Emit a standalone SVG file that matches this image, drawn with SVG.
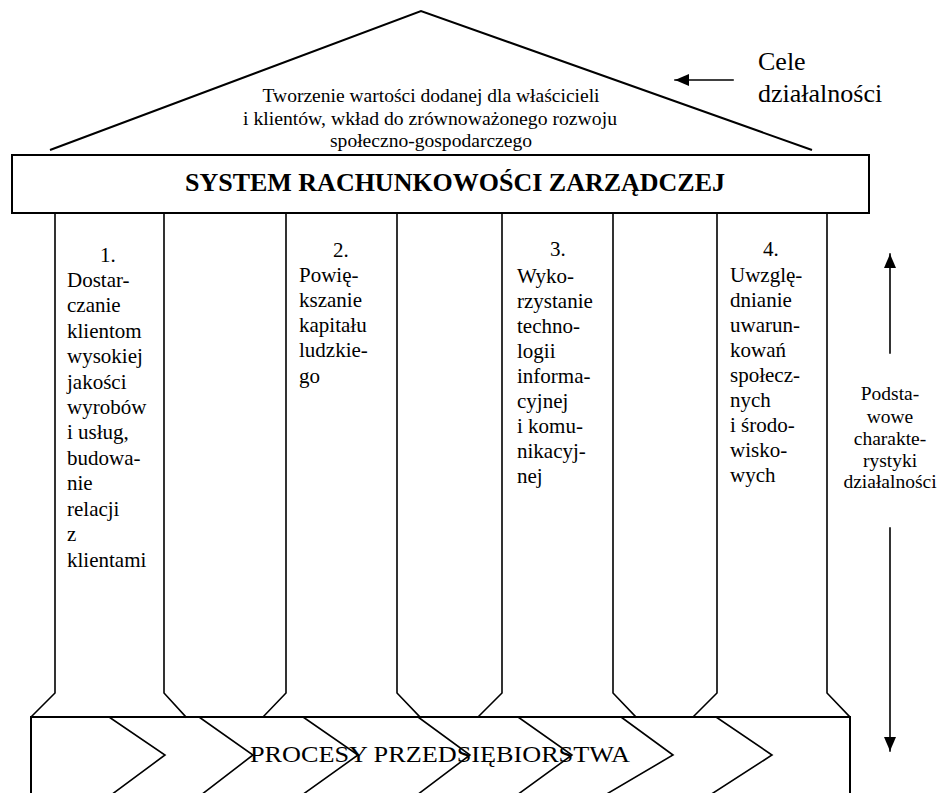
<svg xmlns="http://www.w3.org/2000/svg" width="940" height="793" viewBox="0 0 940 793" font-family="'Liberation Serif', 'DejaVu Serif', serif">
  <style>
    .ln { fill: none; stroke: #000; stroke-width: 1.6; stroke-linecap: square; }
    .thick { fill: none; stroke: #000; stroke-width: 2; }
    text { font-family: 'Liberation Serif', 'DejaVu Serif', serif; fill: #000; }
    .roof-txt { font-size: 19.5px; text-anchor: middle; }
    .col-txt { font-size: 21px; }
    .side-txt { font-size: 19.5px; text-anchor: middle; }
  </style>
  <defs>
    <marker id="head" viewBox="0 0 14 12" refX="14" refY="6" markerWidth="14" markerHeight="12" markerUnits="userSpaceOnUse" orient="auto">
      <path d="M0,0 L14,6 L0,12 Z" fill="#000"/>
    </marker>
  </defs>

  <rect width="940" height="793" fill="#fff"/>

  <!-- roof: goals -->
  <g id="roof">
    <polyline class="thick" points="50,150 421,11 812,150"/>
    <text class="roof-txt" x="431" y="102" textLength="337" lengthAdjust="spacingAndGlyphs">Tworzenie wartości dodanej dla właścicieli</text>
    <text class="roof-txt" x="430" y="125" textLength="374" lengthAdjust="spacingAndGlyphs">i klientów, wkład do zrównoważonego rozwoju</text>
    <text class="roof-txt" x="431" y="147" textLength="202" lengthAdjust="spacingAndGlyphs">społeczno-gospodarczego</text>
  </g>

  <!-- beam: management accounting system -->
  <g id="beam">
    <rect class="thick" x="12" y="155" width="857" height="58"/>
    <text x="185" y="191" font-size="26" font-weight="bold" textLength="540" lengthAdjust="spacingAndGlyphs">SYSTEM RACHUNKOWOŚCI ZARZĄDCZEJ</text>
  </g>

  <!-- pillar 1 -->
  <g id="pillar1">
    <path class="ln" d="M55,213 V693 L31,717 M164,213 V693 L186,717"/>
    <text class="col-txt" x="100" y="262">1.</text>
    <text class="col-txt" x="67" y="287">Dostar-</text>
    <text class="col-txt" x="67" y="312">czanie</text>
    <text class="col-txt" x="67" y="338">klientom</text>
    <text class="col-txt" x="67" y="363">wysokiej</text>
    <text class="col-txt" x="67" y="389">jakości</text>
    <text class="col-txt" x="67" y="414">wyrobów</text>
    <text class="col-txt" x="67" y="439">i usług,</text>
    <text class="col-txt" x="67" y="465">budowa-</text>
    <text class="col-txt" x="67" y="490">nie</text>
    <text class="col-txt" x="67" y="516">relacji</text>
    <text class="col-txt" x="67" y="541">z</text>
    <text class="col-txt" x="67" y="567">klientami</text>
  </g>

  <!-- pillar 2 -->
  <g id="pillar2">
    <path class="ln" d="M286,213 V693 L263,717 M397,213 V693 L420,717"/>
    <text class="col-txt" x="333" y="257">2.</text>
    <text class="col-txt" x="299" y="282">Powię-</text>
    <text class="col-txt" x="299" y="307">kszanie</text>
    <text class="col-txt" x="299" y="332">kapitału</text>
    <text class="col-txt" x="299" y="357">ludzkie-</text>
    <text class="col-txt" x="299" y="383">go</text>
  </g>

  <!-- pillar 3 -->
  <g id="pillar3">
    <path class="ln" d="M502,213 V693 L478,717 M613,213 V693 L636,717"/>
    <text class="col-txt" x="550" y="256">3.</text>
    <text class="col-txt" x="517" y="283">Wyko-</text>
    <text class="col-txt" x="517" y="308">rzystanie</text>
    <text class="col-txt" x="517" y="333">techno-</text>
    <text class="col-txt" x="517" y="358">logii</text>
    <text class="col-txt" x="517" y="383">informa-</text>
    <text class="col-txt" x="517" y="408">cyjnej</text>
    <text class="col-txt" x="517" y="433">i komu-</text>
    <text class="col-txt" x="517" y="458">nikacyj-</text>
    <text class="col-txt" x="517" y="483">nej</text>
  </g>

  <!-- pillar 4 -->
  <g id="pillar4">
    <path class="ln" d="M717,213 V693 L693,717 M827,213 V693 L850,717"/>
    <text class="col-txt" x="763" y="256">4.</text>
    <text class="col-txt" x="730" y="282">Uwzglę-</text>
    <text class="col-txt" x="730" y="307">dnianie</text>
    <text class="col-txt" x="730" y="332">uwarun-</text>
    <text class="col-txt" x="730" y="357">kowań</text>
    <text class="col-txt" x="730" y="382">społecz-</text>
    <text class="col-txt" x="730" y="407">nych</text>
    <text class="col-txt" x="730" y="432">i środo-</text>
    <text class="col-txt" x="730" y="457">wisko-</text>
    <text class="col-txt" x="730" y="482">wych</text>
  </g>

  <!-- foundation: enterprise processes -->
  <g id="base">
    <path class="thick" d="M31,795 V717 H850 V795"/>
    <path class="ln" d="M109,717 L165,755 L111,795
                        M199,717 L253,755 L201,795
                        M303,717 L358,755 L302,795
                        M418,717 L470,755 L417,795
                        M518,717 L572,755 L517,795
                        M621,717 L673,755 L605,795
                        M716,717 L772,755 L710,795"/>
    <text x="250" y="762" font-size="24" textLength="380" lengthAdjust="spacingAndGlyphs">PROCESY PRZEDSIĘBIORSTWA</text>
  </g>

  <!-- side annotations -->
  <g id="goals-label">
    <text x="758" y="70" font-size="26">Cele</text>
    <text x="758" y="102" font-size="26">działalności</text>
  </g>
  <g id="features-label">
    <text class="side-txt" x="890" y="400">Podsta-</text>
    <text class="side-txt" x="890" y="423">wowe</text>
    <text class="side-txt" x="890" y="445">charakte-</text>
    <text class="side-txt" x="890" y="467">rystyki</text>
    <text class="side-txt" x="890" y="488">działalności</text>
  </g>

  <g id="connectors">
    <line class="ln" x1="733" y1="80" x2="675" y2="80" marker-end="url(#head)"/>
    <line class="ln" x1="890" y1="353" x2="890" y2="254" marker-end="url(#head)"/>
    <line class="ln" x1="890" y1="528" x2="890" y2="751" marker-end="url(#head)"/>
  </g>
</svg>
